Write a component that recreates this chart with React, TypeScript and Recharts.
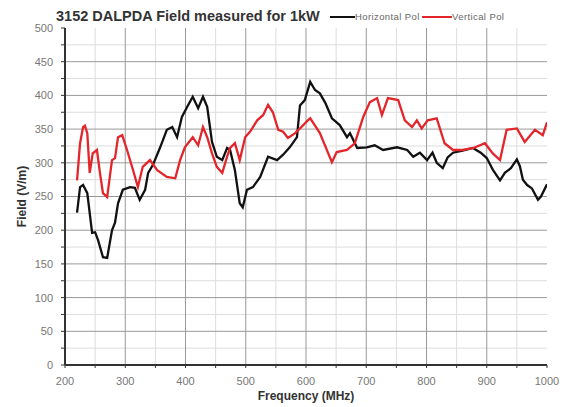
import { LineChart, Line, XAxis, YAxis, CartesianGrid } from 'recharts'

// Horizontal polarisation (black)
const hFreq = [220, 225, 230, 237, 245, 250, 255, 263, 270, 278, 283, 288, 296, 308, 316, 324, 333, 338, 346, 358, 369, 378, 386, 394, 404, 412, 421, 429, 436, 444, 452, 461, 469, 474, 482, 490, 495, 502, 512, 524, 537, 552, 562, 573, 585, 590, 598, 607, 615, 623, 632, 643, 656, 668, 673, 685, 701, 714, 728, 751, 768, 778, 789, 801, 810, 817, 827, 835, 844, 860, 877, 890, 900, 910, 922, 930, 940, 950, 955, 960, 967, 975, 985, 990, 1000]
const hField = [226, 264, 267, 255, 196, 197, 185, 160, 159, 200, 211, 240, 260, 264, 263, 245, 260, 285, 297, 323, 349, 353, 338, 368, 385, 398, 381, 398, 383, 331, 309, 304, 322, 319, 289, 240, 234, 260, 264, 279, 309, 304, 312, 323, 338, 385, 393, 420, 408, 403, 389, 366, 356, 338, 344, 322, 323, 326, 319, 323, 319, 309, 315, 304, 315, 300, 292, 308, 315, 318, 322, 315, 307, 290, 274, 285, 292, 305, 295, 275, 267, 262, 245, 250, 268]

// Vertical polarisation (red)
const vFreq = [220, 225, 230, 233, 237, 241, 246, 253, 258, 263, 270, 278, 283, 288, 295, 303, 313, 321, 329, 341, 353, 369, 383, 391, 399, 412, 421, 429, 436, 444, 452, 461, 469, 474, 482, 490, 499, 507, 519, 529, 537, 545, 554, 562, 570, 582, 590, 603, 607, 615, 623, 643, 651, 668, 681, 695, 706, 718, 726, 736, 753, 764, 776, 784, 792, 802, 817, 830, 844, 860, 878, 897, 910, 922, 933, 950, 963, 980, 993, 1000]
const vField = [274, 329, 353, 355, 344, 285, 314, 319, 285, 255, 249, 304, 307, 338, 341, 319, 289, 264, 294, 304, 289, 279, 277, 304, 323, 338, 326, 353, 338, 314, 294, 285, 309, 322, 329, 304, 338, 346, 363, 371, 386, 375, 349, 346, 337, 344, 351, 363, 366, 355, 344, 301, 316, 319, 329, 368, 390, 396, 371, 396, 393, 363, 353, 363, 351, 363, 366, 329, 319, 319, 322, 329, 314, 304, 349, 351, 331, 349, 341, 360]

const xTicks = [200, 250, 300, 350, 400, 450, 500, 550, 600, 650, 700, 750, 800, 850, 900, 950, 1000]
const xMajor = [300, 400, 500, 600, 700, 800, 900]
const xMinor = [250, 350, 450, 550, 650, 750, 850, 950]
const yTicks = [0, 25, 50, 75, 100, 125, 150, 175, 200, 225, 250, 275, 300, 325, 350, 375, 400, 425, 450, 475, 500]
const yMajor = [50, 100, 150, 200, 250, 300, 350, 400, 450]
const yMinor = [25, 75, 125, 175, 225, 275, 325, 375, 425, 475]

const hData = hFreq.map((f, i) => ({ freq: f, field: hField[i] }))
const vData = vFreq.map((f, i) => ({ freq: f, field: vField[i] }))

const FONT = '"Liberation Sans", Arial, sans-serif'

export default function App() {
  return (
    <div style={{ position: 'fixed', left: 0, top: 0, width: 571, height: 407, background: '#fff', fontFamily: FONT }}>
      <LineChart width={571} height={407} data={hData} margin={{ top: 28, right: 24, left: 0, bottom: 12 }}>
        <text x={56} y={21} fontSize={14.5} fontWeight="bold" fill="#333">3152 DALPDA Field measured for 1kW</text>
        <line x1={330} x2={355} y1={17} y2={17} stroke="#111" strokeWidth={2} />
        <text x={355} y={20} fontSize={9.5} letterSpacing={0.4} fill="#666">Horizontal Pol</text>
        <line x1={422} x2={452} y1={17} y2={17} stroke="#e3262b" strokeWidth={2} />
        <text x={452} y={20} fontSize={9.5} letterSpacing={0.4} fill="#666">Vertical Pol</text>
        <text x={306} y={400} textAnchor="middle" fontSize={12} fontWeight="bold" fill="#333">Frequency (MHz)</text>
        <CartesianGrid stroke="#ddd" vertical={false} horizontalValues={yMinor} />
        <CartesianGrid stroke="#ddd" horizontal={false} verticalValues={xMinor} />
        <CartesianGrid stroke="#999" horizontalValues={yMajor} verticalValues={xMajor} />
        <XAxis
          dataKey="freq"
          type="number"
          domain={[200, 1000]}
          ticks={xTicks}
          allowDataOverflow
          interval={0}
          height={30}
          tickFormatter={(v) => (v % 100 === 0 ? String(v) : '')}
          tick={{ fill: '#777', fontSize: 11 }}
          tickSize={3}
          tickMargin={9}
          axisLine={{ stroke: '#333', strokeWidth: 2 }}
          tickLine={{ stroke: '#333' }}
        />
        <XAxis xAxisId="top" orientation="top" type="number" domain={[200, 1000]} height={0} tick={false} tickLine={false} axisLine={{ stroke: '#333', strokeWidth: 2 }} />
        <YAxis
          type="number"
          domain={[0, 500]}
          ticks={yTicks}
          interval={0}
          width={65}
          tickFormatter={(v) => (v % 50 === 0 ? String(v) : '')}
          tick={{ fill: '#777', fontSize: 11 }}
          tickSize={4}
          tickMargin={8}
          axisLine={{ stroke: '#333', strokeWidth: 2 }}
          tickLine={{ stroke: '#333' }}
          label={{ value: 'Field (V/m)', angle: -90, position: 'insideLeft', offset: 22, fill: '#333', fontSize: 12, fontWeight: 'bold', style: { textAnchor: 'middle' } }}
        />
        <YAxis yAxisId="right" orientation="right" type="number" domain={[0, 500]} width={0} tick={false} tickLine={false} axisLine={{ stroke: '#333', strokeWidth: 2 }} />
        <Line data={hData} dataKey="field" name="Horizontal Pol" type="linear" stroke="#111" strokeWidth={2.3} dot={false} isAnimationActive={false} />
        <Line data={vData} dataKey="field" name="Vertical Pol" type="linear" stroke="#e3262b" strokeWidth={2.3} dot={false} isAnimationActive={false} />
      </LineChart>
    </div>
  )
}
